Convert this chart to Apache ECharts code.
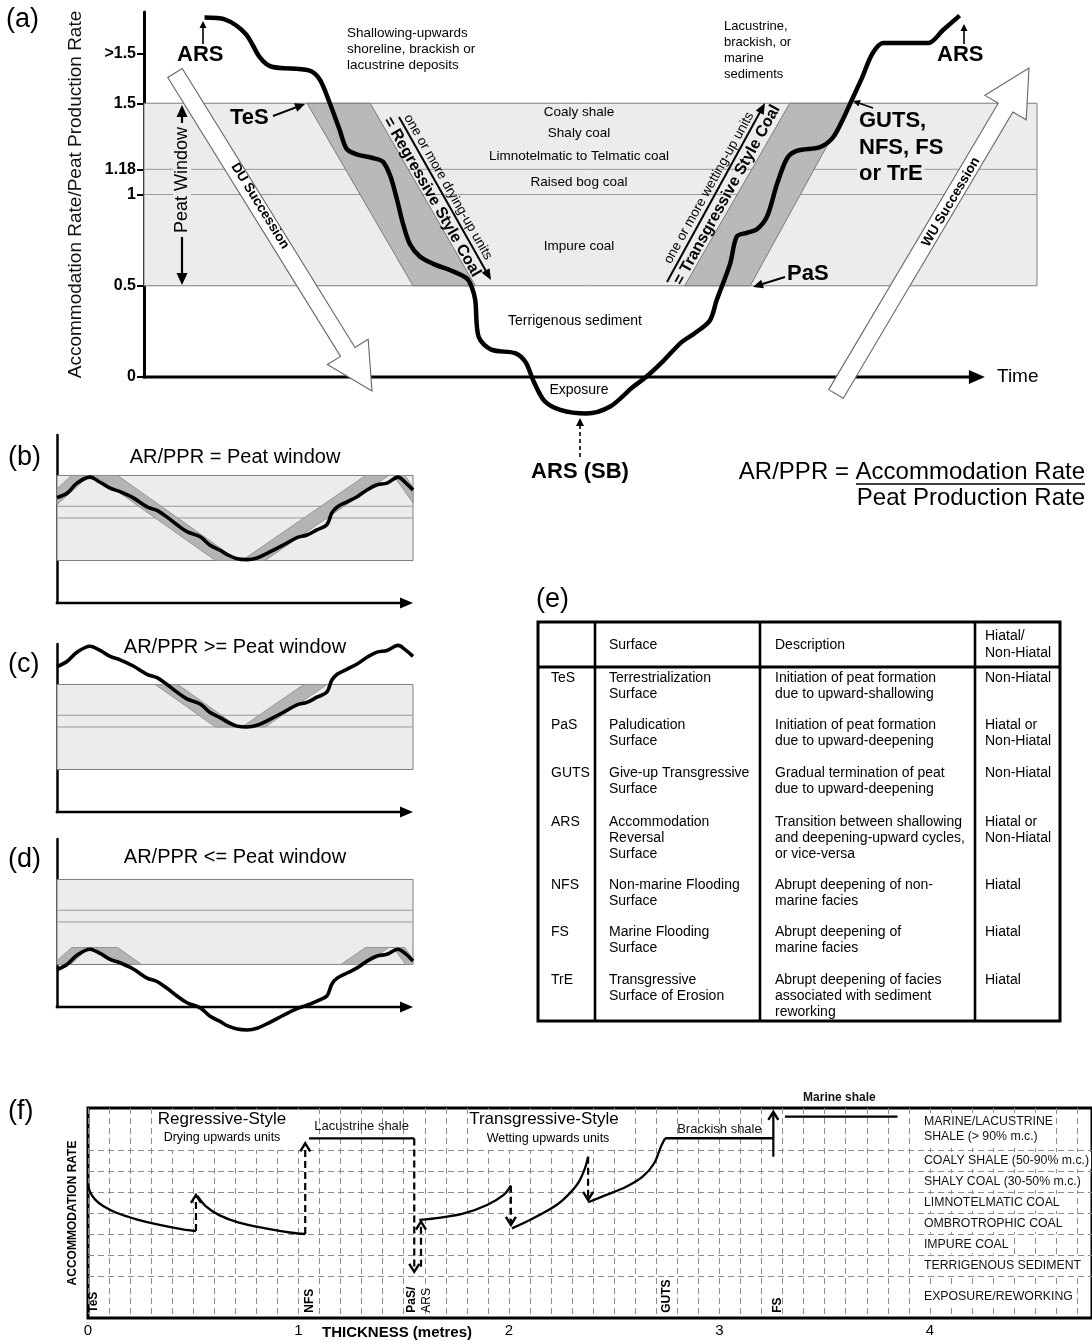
<!DOCTYPE html>
<html><head><meta charset="utf-8">
<script src="https://cdn.jsdelivr.net/npm/echarts@6/dist/echarts.min.js"></script>
<style>html,body{margin:0;padding:0;background:#fff}#c{width:1092px;height:1340px}</style>
</head><body><div id="c"></div>
<script>
const FF = '"Liberation Sans", Arial, Helvetica, sans-serif';

// ================= DATA =================
// (a) accommodation / peat-production ratio through time
const aTickValues = [0, 0.5, 1, 1.138, 1.5, 1.773];
const aTickLabels = ['0', '0.5', '1', '1.18', '1.5', '>1.5'];
const peatWindow = [0.5, 1.5];
const coalBoundaries = [1.0, 1.138];
const timeAxisEnd = 100;
const aBandEnd = 106.2;
const aCurve = [
[7.2,1.97],[9.6,1.96],[12.1,1.88],[13.8,1.75],[15.2,1.70],[19.6,1.68],[20.9,1.63],[22.1,1.50],[23.3,1.35],[24.1,1.25],
[25.3,1.22],[27.2,1.20],[28.4,1.18],[29.3,1.10],[30.1,0.97],[30.8,0.84],[31.6,0.73],[32.8,0.66],[34.4,0.62],[36.7,0.58],
[38.4,0.54],[39.0,0.49],[39.4,0.42],[39.8,0.22],[41.3,0.15],[44.2,0.13],[45.4,0.08],[46.3,-0.02],[47.6,-0.13],[49.5,-0.18],
[52.6,-0.20],[55.5,-0.16],[58.0,-0.06],[59.7,0.00],[61.8,0.09],[63.9,0.19],[65.5,0.24],[67.3,0.31],[68.1,0.42],[69.7,0.62],
[70.5,0.77],[71.7,0.79],[72.9,0.81],[74.1,0.88],[75.3,1.06],[76.5,1.20],[77.7,1.24],[80.4,1.26],[81.9,1.31],[83.1,1.41],
[84.3,1.53],[85.4,1.64],[86.6,1.77],[87.9,1.83],[90.7,1.83],[93.3,1.83],[95.0,1.90],[97.0,1.98]
];
const regressiveCoal = [[19.4,1.5],[26.9,1.5],[39.4,0.5],[32.0,0.5]];
const transgressiveCoal = [[64.3,0.5],[72.1,0.5],[84.0,1.5],[76.8,1.5]];

// (b) (c) (d)
const bCurve = [[0,1.24],[2.8,1.29],[5.6,1.41],[9.3,1.48],[12.1,1.42],[14.9,1.35],[17.7,1.31],[21.3,1.24],[25.3,1.13],[28.1,1.09],[30.9,1.01],[33.7,0.92],[36.5,0.84],[40.2,0.78],[43.0,0.68],[45.8,0.62],[47.8,0.57],[50.6,0.52],[53.4,0.51],[56.2,0.53],[59.8,0.60],[63.5,0.68],[67.4,0.77],[70.2,0.80],[73.0,0.86],[75.8,0.92],[77.2,1.06],[78.7,1.13],[81.5,1.19],[84.3,1.25],[87.1,1.33],[89.9,1.39],[92.7,1.41],[95.8,1.48],[97.8,1.42],[100,1.33]];
const cCurve = [[0,1.71],[2.8,1.77],[5.6,1.88],[9.3,1.95],[12.1,1.90],[14.9,1.83],[17.7,1.79],[21.3,1.72],[25.3,1.62],[28.1,1.58],[30.9,1.50],[33.7,1.41],[36.5,1.33],[40.2,1.27],[43.0,1.17],[45.8,1.11],[47.8,1.06],[50.6,1.01],[53.4,1.00],[56.2,1.02],[59.8,1.09],[63.5,1.17],[67.4,1.26],[70.2,1.29],[73.0,1.35],[75.8,1.41],[77.2,1.55],[78.7,1.62],[81.5,1.68],[84.3,1.74],[87.1,1.82],[89.9,1.88],[92.7,1.90],[95.8,1.96],[97.8,1.91],[100,1.83]];
const dCurve = [[0,0.44],[2.8,0.50],[5.6,0.61],[9.3,0.68],[12.1,0.63],[14.9,0.56],[17.7,0.52],[21.3,0.45],[25.3,0.34],[28.1,0.30],[30.9,0.22],[33.7,0.13],[36.5,0.05],[40.2,-0.01],[43.0,-0.11],[45.8,-0.17],[47.8,-0.22],[50.6,-0.26],[53.4,-0.27],[56.2,-0.25],[59.8,-0.18],[63.5,-0.10],[67.4,-0.02],[70.2,0.02],[73.0,0.07],[75.8,0.13],[77.2,0.27],[78.7,0.34],[81.5,0.40],[84.3,0.46],[87.1,0.54],[89.9,0.60],[92.7,0.62],[95.8,0.68],[97.8,0.63],[100,0.54]];
// centre lines of the grey coal wedges and the AR/PPR range they occupy in each panel
const bCoal = [[0,1.25],[9.8,1.62],[51.4,0.39],[94.1,1.62],[100,1.27]];
const cCoal = [[0,1.75],[9.8,2.12],[51.4,0.89],[94.1,2.12],[100,1.77]];
const dCoal = [[0,0.45],[9.8,0.82],[51.4,-0.41],[94.1,0.82],[100,0.47]];
const bCoalRange = [0.5, 1.5];
const cCoalRange = [1.0, 1.5];
const dCoalRange = [0.5, 0.7];
const panelTitles = ['AR/PPR = Peat window', 'AR/PPR >= Peat window', 'AR/PPR <= Peat window'];

// (e) table
const tableHeader = ['', 'Surface', 'Description', 'Hiatal/\nNon-Hiatal'];
const tableRows = [
 ['TeS', 'Terrestrialization\nSurface', 'Initiation of peat formation\ndue to upward-shallowing', 'Non-Hiatal'],
 ['PaS', 'Paludication\nSurface', 'Initiation of peat formation\ndue to upward-deepening', 'Hiatal or\nNon-Hiatal'],
 ['GUTS', 'Give-up Transgressive\nSurface', 'Gradual termination of peat\ndue to upward-deepening', 'Non-Hiatal'],
 ['ARS', 'Accommodation\nReversal\nSurface', 'Transition between shallowing\nand deepening-upward cycles,\nor vice-versa', 'Hiatal or\nNon-Hiatal'],
 ['NFS', 'Non-marine Flooding\nSurface', 'Abrupt deepening of non-\nmarine facies', 'Hiatal'],
 ['FS', 'Marine Flooding\nSurface', 'Abrupt deepening of\nmarine facies', 'Hiatal'],
 ['TrE', 'Transgressive\nSurface of Erosion', 'Abrupt deepening of facies\nassociated with sediment\nreworking', 'Hiatal']
];

// (f) accommodation rate vs thickness
const fTicks = [0, 1, 2, 3, 4];
const faciesBounds = [2, 3, 4, 5, 6, 7, 8];
const faciesLabelX = 3.962;
const faciesLabels = [
 ['MARINE/LACUSTRINE\nSHALE (> 90% m.c.)', 9.0],
 ['COALY SHALE (50-90% m.c.)', 7.5],
 ['SHALY COAL (30-50% m.c.)', 6.5],
 ['LIMNOTELMATIC COAL', 5.5],
 ['OMBROTROPHIC COAL', 4.5],
 ['IMPURE COAL', 3.5],
 ['TERRIGENOUS SEDIMENT', 2.5],
 ['EXPOSURE/REWORKING', 1.0]
];
const fSegments = [
 [[0,6.41],[0.009,6.01],[0.033,5.65],[0.072,5.33],[0.135,5.01],[0.23,4.70],[0.34,4.43],[0.45,4.22],[0.513,4.14]],
 [[0.52,5.81],[0.559,5.33],[0.623,4.90],[0.717,4.54],[0.843,4.27],[0.968,4.06],[1.032,4.00]],
 [[1.05,8.55],[1.55,8.55]],
 [[1.574,4.67],[1.676,4.78],[1.786,4.98],[1.896,5.38],[1.975,5.86],[2.009,6.30]],
 [[2.014,4.27],[2.116,4.75],[2.226,5.38],[2.285,5.90],[2.33,6.45],[2.36,7.10],[2.376,7.68]],
 [[2.376,5.51],[2.462,5.86],[2.557,6.25],[2.635,6.73],[2.69,7.37],[2.722,8.16],[2.742,8.56]],
 [[2.742,8.56],[3.256,8.56]],
 [[3.311,9.59],[3.846,9.59]]
];
// [thickness, from, to, dashed]
const fJumps = [
 [0.513,4.14,5.86,1],
 [1.032,4.00,8.32,1],
 [1.55,8.55,2.20,1],
 [1.582,2.44,4.59,1],
 [2.009,6.30,4.43,1],
 [2.376,7.68,5.62,1],
 [3.256,7.68,9.82,0]
];
const fSurfaceLabels = [['TeS',0.028],['NFS',1.052],['PaS/',1.538],['ARS',1.608],['GUTS',2.75],['FS',3.278]];
const fSurfaceLabelY = 0.25;
const fRangeLabels = [
 ['Lacustrine shale', 1.3, 9.14],
 ['Brackish shale', 3.0, 9.0],
 ['Marine shale', 3.57, 10.5]
];

// ================= HELPERS =================
function T(x, y, text, o) {
  o = o || {};
  const st = {text: text, fill: o.color || '#000', fontSize: o.size || 13, fontWeight: o.weight || 'normal',
    fontFamily: FF, textAlign: o.align || 'left', align: o.align || 'left',
    textVerticalAlign: o.valign || 'middle', verticalAlign: o.valign || 'middle'};
  if (o.lh) st.lineHeight = o.lh;
  if (o.bg) { st.backgroundColor = o.bg; st.padding = o.pad || [0, 2]; }
  return {type: 'text', x: x, y: y, rotation: o.rot || 0, z: 50, style: st};
}
function Arrow(x1, y1, x2, y2, o) {
  o = o || {};
  const w = o.w || 2, hl = o.hl || 10, hw = o.hw || 4.5, col = o.color || '#000';
  const dx = x2 - x1, dy = y2 - y1, L = Math.hypot(dx, dy), ux = dx / L, uy = dy / L;
  const bx = x2 - ux * hl, by = y2 - uy * hl;
  return [
    {type: 'line', z: 50, shape: {x1: x1, y1: y1, x2: bx + ux, y2: by + uy}, style: {stroke: col, lineWidth: w, lineDash: o.dash || null}},
    {type: 'polygon', z: 50, shape: {points: [[x2, y2], [bx - uy * hw, by + ux * hw], [bx + uy * hw, by - ux * hw]]}, style: {fill: col}}
  ];
}
function BigArrow(x1, y1, x2, y2) {
  const sw = 8.5, hw = 24, hl = 46;
  const dx = x2 - x1, dy = y2 - y1, L = Math.hypot(dx, dy), ux = dx / L, uy = dy / L, nx = -uy, ny = ux;
  const nxp = x2 - ux * hl, nyp = y2 - uy * hl;
  return {type: 'polygon', z: 45, shape: {points: [
    [x1 + nx * sw, y1 + ny * sw], [nxp + nx * sw, nyp + ny * sw], [nxp + nx * hw, nyp + ny * hw], [x2, y2],
    [nxp - nx * hw, nyp - ny * hw], [nxp - nx * sw, nyp - ny * sw], [x1 - nx * sw, y1 - ny * sw]]},
    style: {fill: '#fff', stroke: '#666', lineWidth: 1.1}};
}
function clipHalf(pts, axis, val, keepGreater) {
  const out = [];
  const inside = p => keepGreater ? p[axis] >= val : p[axis] <= val;
  for (let i = 0; i < pts.length; i++) {
    const cur = pts[i], prev = pts[(i + pts.length - 1) % pts.length];
    const ic = inside(cur), ip = inside(prev);
    const cross = () => { const t = (val - prev[axis]) / (cur[axis] - prev[axis]); return [prev[0] + t * (cur[0] - prev[0]), prev[1] + t * (cur[1] - prev[1])]; };
    if (ic) { if (!ip) out.push(cross()); out.push(cur); }
    else if (ip) out.push(cross());
  }
  return out;
}
function clipRect(pts, x0, x1, y0, y1) {
  let p = clipHalf(pts, 0, x0, true);
  p = clipHalf(p, 0, x1, false);
  p = clipHalf(p, 1, y0, true);
  p = clipHalf(p, 1, y1, false);
  return p;
}
function bandRender(x0, x1) {
  return function (params, api) {
    const tl = api.coord([x0, peatWindow[1]]), br = api.coord([x1, peatWindow[0]]);
    const ch = [{type: 'rect', shape: {x: tl[0], y: tl[1], width: br[0] - tl[0], height: br[1] - tl[1]},
      style: {fill: '#ececec', stroke: '#7e7e7e', lineWidth: 1}}];
    coalBoundaries.forEach(v => {
      const a = api.coord([x0, v]), b = api.coord([x1, v]);
      ch.push({type: 'line', shape: {x1: a[0], y1: a[1], x2: b[0], y2: b[1]}, style: {stroke: '#9a9a9a', lineWidth: 1}});
    });
    return {type: 'group', children: ch};
  };
}
function polyRender(polys) {
  return function (params, api) {
    return {type: 'group', children: polys.map(pl => ({type: 'polygon',
      shape: {points: pl.map(p => api.coord(p))}, style: {fill: '#b9b9b9', stroke: '#7a7a7a', lineWidth: 1}}))};
  };
}
function zigRender(centre, h, x1, range) {
  return function (params, api) {
    const upper = centre.map(p => api.coord([p[0], p[1] + h]));
    const lower = centre.slice().reverse().map(p => api.coord([p[0], p[1] - h]));
    const tl = api.coord([0, range[1]]), br = api.coord([x1, range[0]]);
    const poly = clipRect(upper.concat(lower), tl[0], br[0], tl[1], br[1]);
    if (poly.length < 3) return null;
    return {type: 'polygon', shape: {points: poly}, style: {fill: '#b4b4b4', stroke: '#8c8c8c', lineWidth: 0.8}};
  };
}
function axisArrowRender(xEnd, lw, hl, hw) {
  return function (params, api) {
    const a = api.coord([0, 0]), b = api.coord([xEnd, 0]);
    return {type: 'group', children: [
      {type: 'line', shape: {x1: a[0] - lw / 2, y1: a[1], x2: b[0] - hl + 1, y2: b[1]}, style: {stroke: '#000', lineWidth: lw}},
      {type: 'polygon', shape: {points: [[b[0], b[1]], [b[0] - hl, b[1] - hw], [b[0] - hl, b[1] + hw]]}, style: {fill: '#000'}}
    ]};
  };
}
function jumpRender(params, api) {
  const x = api.value(0), y0 = api.value(1), y1 = api.value(2), dashed = api.value(3);
  const p0 = api.coord([x, y0]), p1 = api.coord([x, y1]);
  const dir = p1[1] < p0[1] ? -1 : 1;
  const hl = 8, hw = 5;
  return {type: 'group', children: [
    {type: 'line', shape: {x1: p0[0], y1: p0[1], x2: p1[0], y2: p1[1] - dir * 1}, style: {stroke: '#000', lineWidth: 2.2, lineDash: dashed ? [7, 4] : null}},
    {type: 'polyline', shape: {points: [[p1[0] - hw, p1[1] - dir * hl], [p1[0], p1[1]], [p1[0] + hw, p1[1] - dir * hl]]}, style: {stroke: '#000', lineWidth: 2.4, fill: 'none'}}
  ]};
}

// ================= OPTION =================
const grids = [
  {left: 144, top: 12, width: 893, height: 365},
  {left: 57, top: 435, width: 356, height: 168},
  {left: 57, top: 644, width: 356, height: 168},
  {left: 57, top: 839, width: 356, height: 168},
  {left: 88, top: 1108, width: 1011, height: 210, show: true, borderColor: '#000', borderWidth: 3, backgroundColor: 'transparent'}
];
const hidden = {axisLine: {show: false}, axisTick: {show: false}, axisLabel: {show: false}, splitLine: {show: false}};
const xAxes = [
  Object.assign({gridIndex: 0, type: 'value', min: 0, max: aBandEnd}, hidden),
  Object.assign({gridIndex: 1, type: 'value', min: 0, max: 100}, hidden),
  Object.assign({gridIndex: 2, type: 'value', min: 0, max: 100}, hidden),
  Object.assign({gridIndex: 3, type: 'value', min: 0, max: 100}, hidden),
  {gridIndex: 4, type: 'value', min: 0, max: 4.77, interval: 0.1,
   axisLine: {show: false}, axisTick: {show: false},
   axisLabel: {show: true, customValues: fTicks, fontSize: 15, color: '#000', fontFamily: FF, margin: 5,
     formatter: v => (Math.abs(v - Math.round(v)) < 1e-6 ? String(Math.round(v)) : '')},
   splitLine: {show: true, lineStyle: {color: '#8c8c8c', width: 1, type: [6, 4]}}}
];
const smallY = gi => ({gridIndex: gi, type: 'value', min: 0, max: 1.976,
  axisLine: {show: true, onZero: false, lineStyle: {color: '#000', width: 2.5}}, axisTick: {show: false}, axisLabel: {show: false}, splitLine: {show: false}});
const yAxes = [
  {gridIndex: 0, type: 'value', min: 0, max: 2.0,
   axisLine: {show: true, onZero: false, lineStyle: {color: '#000', width: 3}},
   axisTick: {show: true, customValues: aTickValues, length: 7, lineStyle: {color: '#000', width: 2}},
   axisLabel: {show: true, customValues: aTickValues, fontSize: 16, fontWeight: 'bold', color: '#000', fontFamily: FF, margin: 8,
     formatter: v => { const i = aTickValues.findIndex(t => Math.abs(t - v) < 1e-6); return i >= 0 ? aTickLabels[i] : ''; }},
   splitLine: {show: false},
   name: 'Accommodation Rate/Peat Production Rate', nameLocation: 'middle', nameGap: 59, nameRotate: 90,
   nameTextStyle: {fontSize: 19, color: '#111', fontFamily: FF}},
  smallY(1), smallY(2), smallY(3),
  {gridIndex: 4, type: 'value', min: 0, max: 10, interval: 1,
   axisLine: {show: false}, axisTick: {show: false}, axisLabel: {show: false}, splitLine: {show: false},
   name: 'ACCOMMODATION RATE', nameLocation: 'middle', nameGap: 9, nameRotate: 90,
   nameTextStyle: {fontSize: 12, fontWeight: 'bold', color: '#000', fontFamily: FF}}
];

const series = [];
// (a)
series.push({type: 'custom', xAxisIndex: 0, yAxisIndex: 0, z: 1, silent: true, data: [[0, 0]], renderItem: bandRender(0, aBandEnd)});
series.push({type: 'custom', xAxisIndex: 0, yAxisIndex: 0, z: 2, silent: true, data: [[0, 0]], renderItem: polyRender([regressiveCoal, transgressiveCoal])});
series.push({type: 'custom', xAxisIndex: 0, yAxisIndex: 0, z: 3, silent: true, data: [[0, 0]], renderItem: axisArrowRender(timeAxisEnd, 3, 16, 7)});
series.push({type: 'line', xAxisIndex: 0, yAxisIndex: 0, z: 4, data: aCurve, smooth: 0.3, symbol: 'none', clip: false,
  lineStyle: {color: '#000', width: 4.5}});
// (b)(c)(d)
[[bCurve, bCoal, bCoalRange], [cCurve, cCoal, cCoalRange], [dCurve, dCoal, dCoalRange]].forEach((pair, k) => {
  const gi = k + 1;
  series.push({type: 'custom', xAxisIndex: gi, yAxisIndex: gi, z: 1, silent: true, data: [[0, 0]], renderItem: bandRender(0, 100)});
  series.push({type: 'custom', xAxisIndex: gi, yAxisIndex: gi, z: 2, silent: true, data: [[0, 0]], renderItem: zigRender(pair[1], 0.094, 100, pair[2])});
  series.push({type: 'custom', xAxisIndex: gi, yAxisIndex: gi, z: 3, silent: true, data: [[0, 0]], renderItem: axisArrowRender(100, 2.5, 13, 5.5)});
  series.push({type: 'line', xAxisIndex: gi, yAxisIndex: gi, z: 4, data: pair[0], smooth: 0.35, symbol: 'none', clip: false,
    lineStyle: {color: '#000', width: 3.6}});
});
// (f)
fSegments.forEach((seg, i) => {
  const s = {type: 'line', xAxisIndex: 4, yAxisIndex: 4, z: 4, data: seg, smooth: seg.length > 2 ? 0.35 : 0, symbol: 'none', clip: false,
    lineStyle: {color: '#000', width: 2.3}};
  if (i === 0) s.markLine = {silent: true, symbol: 'none', label: {show: false}, z: 2,
    lineStyle: {color: '#8c8c8c', width: 1, type: [6, 4]}, data: faciesBounds.map(v => ({yAxis: v}))};
  series.push(s);
});
series.push({type: 'custom', xAxisIndex: 4, yAxisIndex: 4, z: 5, silent: true, data: fJumps, renderItem: jumpRender});
series.push({type: 'custom', xAxisIndex: 4, yAxisIndex: 4, z: 6, silent: true,
  data: faciesLabels.map(d => [faciesLabelX, d[1]]),
  renderItem: (params, api) => {
    const p = api.coord([api.value(0), api.value(1)]);
    return {type: 'text', x: p[0], y: p[1], style: {text: faciesLabels[params.dataIndex][0], fill: '#111', fontSize: 12.3,
      fontFamily: FF, textAlign: 'left', align: 'left', textVerticalAlign: 'middle', verticalAlign: 'middle', lineHeight: 15,
      backgroundColor: '#fff', padding: [1, 2]}};
  }});
series.push({type: 'custom', xAxisIndex: 4, yAxisIndex: 4, z: 6, silent: true,
  data: fSurfaceLabels.map(d => [d[1], fSurfaceLabelY]),
  renderItem: (params, api) => {
    const p = api.coord([api.value(0), api.value(1)]);
    const t = fSurfaceLabels[params.dataIndex][0];
    return {type: 'text', x: p[0], y: p[1], rotation: Math.PI / 2, style: {text: t, fill: '#000', fontSize: 12,
      fontWeight: t === 'ARS' ? 'normal' : 'bold', fontFamily: FF, textAlign: 'left', align: 'left',
      textVerticalAlign: 'middle', verticalAlign: 'middle'}};
  }});
series.push({type: 'custom', xAxisIndex: 4, yAxisIndex: 4, z: 6, silent: true,
  data: fRangeLabels.map(d => [d[1], d[2]]),
  renderItem: (params, api) => {
    const p = api.coord([api.value(0), api.value(1)]);
    const t = fRangeLabels[params.dataIndex][0];
    return {type: 'text', x: p[0], y: p[1], style: {text: t, fill: '#111', fontSize: t === 'Marine shale' ? 12 : 13,
      fontWeight: t === 'Marine shale' ? 'bold' : 'normal', fontFamily: FF, textAlign: 'center', align: 'center',
      textVerticalAlign: 'middle', verticalAlign: 'middle'}};
  }});

// ================= ANNOTATIONS =================
let G = [];
// (a)
G.push(T(6, 20, '(a)', {size: 27}));
G.push(T(177, 55, 'ARS', {size: 22, weight: 'bold'}));
G = G.concat(Arrow(203, 44, 203, 21, {w: 1.6, hl: 7, hw: 3.5}));
G.push(T(347, 33, 'Shallowing-upwards', {size: 13.5}));
G.push(T(347, 49, 'shoreline, brackish or', {size: 13.5}));
G.push(T(347, 65, 'lacustrine deposits', {size: 13.5}));
G.push(T(230, 118, 'TeS', {size: 22, weight: 'bold'}));
G = G.concat(Arrow(273, 116, 305, 104, {w: 2, hl: 10, hw: 4.5}));
G = G.concat(Arrow(182, 195, 182, 105, {w: 2.2, hl: 12, hw: 5.5}));
G = G.concat(Arrow(182, 195, 182, 285, {w: 2.2, hl: 12, hw: 5.5}));
G.push(T(182, 180, 'Peat Window', {size: 18, align: 'center', rot: Math.PI / 2, bg: '#ececec', pad: [0, 4]}));
G.push(BigArrow(175, 73, 372, 391));
G.push(T(260, 206, 'DU Succession', {size: 13.5, weight: 'bold', align: 'center', rot: -1.015}));
G.push(BigArrow(836, 394, 1029, 68));
G.push(T(951, 202, 'WU Succession', {size: 13.5, weight: 'bold', align: 'center', rot: 1.037}));
G.push(T(579, 112, 'Coaly shale', {size: 13.5, align: 'center'}));
G.push(T(579, 133, 'Shaly coal', {size: 13.5, align: 'center'}));
G.push(T(579, 156, 'Limnotelmatic to Telmatic coal', {size: 13.5, align: 'center'}));
G.push(T(579, 182, 'Raised bog coal', {size: 13.5, align: 'center'}));
G.push(T(579, 246, 'Impure coal', {size: 13.5, align: 'center'}));
G.push(T(575, 321, 'Terrigenous sediment', {size: 14, align: 'center'}));
G.push(T(579, 390, 'Exposure', {size: 14, align: 'center'}));
G = G.concat(Arrow(399, 117, 491, 280, {w: 2, hl: 11, hw: 4.5}));
G.push(T(448, 187, 'one or more drying-up units', {size: 13.5, align: 'center', rot: -1.052}));
G.push(T(432, 197, '= Regressive Style Coal', {size: 16, weight: 'bold', align: 'center', rot: -1.052}));
G = G.concat(Arrow(667, 282, 765, 103, {w: 2, hl: 11, hw: 4.5}));
G.push(T(709, 188, 'one or more wetting-up units', {size: 13.5, align: 'center', rot: 1.063}));
G.push(T(727, 195, '= Transgressive Style Coal', {size: 16, weight: 'bold', align: 'center', rot: 1.063}));
G.push(T(724, 26, 'Lacustrine,', {size: 13}));
G.push(T(724, 42, 'brackish, or', {size: 13}));
G.push(T(724, 58, 'marine', {size: 13}));
G.push(T(724, 74, 'sediments', {size: 13}));
G.push(T(857, 121, 'GUTS,', {size: 22, weight: 'bold', bg: '#ececec', pad: [0, 2]}));
G.push(T(857, 148, 'NFS, FS', {size: 22, weight: 'bold', bg: '#ececec', pad: [0, 2]}));
G.push(T(857, 174, 'or TrE', {size: 22, weight: 'bold', bg: '#ececec', pad: [0, 2]}));
G = G.concat(Arrow(873, 108, 853, 101, {w: 1.6, hl: 7, hw: 3.5}));
G.push(T(787, 274, 'PaS', {size: 22, weight: 'bold'}));
G = G.concat(Arrow(785, 277, 753, 287, {w: 2, hl: 10, hw: 4.5}));
G.push(T(937, 55, 'ARS', {size: 22, weight: 'bold'}));
G = G.concat(Arrow(964, 44, 964, 24, {w: 1.6, hl: 7, hw: 3.5}));
G.push(T(997, 377, 'Time', {size: 19}));
G.push(T(580, 472, 'ARS (SB)', {size: 22, weight: 'bold', align: 'center'}));
G = G.concat(Arrow(580, 457, 580, 418, {w: 1.6, hl: 8, hw: 4, dash: [4, 3]}));
G.push(T(1085, 472, 'AR/PPR = Accommodation Rate', {size: 24, align: 'right'}));
G.push(T(1085, 498, 'Peat Production Rate', {size: 24, align: 'right'}));
G.push({type: 'line', z: 50, shape: {x1: 856, y1: 484, x2: 1085, y2: 484}, style: {stroke: '#000', lineWidth: 1.6}});
// (b)(c)(d)
[['(b)', 458, 457], ['(c)', 665, 647], ['(d)', 860, 857]].forEach((r, k) => {
  G.push(T(8, r[1], r[0], {size: 27}));
  G.push(T(235, r[2], panelTitles[k], {size: 20, align: 'center'}));
});
// (e) table
G.push(T(536, 600, '(e)', {size: 27}));
const tCols = [538, 595, 760, 975, 1060], tTop = 622, tHead = 667, tBot = 1021;
const tTextX = [551, 609, 775, 985];
const tRowY = [678, 725, 773, 822, 885, 932, 980];
G.push({type: 'rect', z: 40, shape: {x: tCols[0], y: tTop, width: tCols[4] - tCols[0], height: tBot - tTop}, style: {fill: '#fff', stroke: '#000', lineWidth: 3}});
[1, 2, 3].forEach(i => G.push({type: 'line', z: 41, shape: {x1: tCols[i], y1: tTop, x2: tCols[i], y2: tBot}, style: {stroke: '#000', lineWidth: 2.6}}));
G.push({type: 'line', z: 41, shape: {x1: tCols[0], y1: tHead, x2: tCols[4], y2: tHead}, style: {stroke: '#000', lineWidth: 3}});
tableHeader.forEach((h, c) => { if (h) G.push(T(tTextX[c], 645, h, {size: 14, lh: 17})); });
tableRows.forEach((row, r) => row.forEach((cell, c) => G.push(T(tTextX[c], tRowY[r] - 8, cell, {size: 14, lh: 16, valign: 'top'}))));
// (f)
G.push(T(8, 1112, '(f)', {size: 27}));
G.push({type: 'rect', z: 45, shape: {x: 153, y: 1110, width: 146, height: 40}, style: {fill: '#fff'}});
G.push(T(222, 1119, 'Regressive-Style', {size: 17, align: 'center'}));
G.push(T(222, 1138, 'Drying upwards units', {size: 12.5, align: 'center'}));
G.push({type: 'rect', z: 45, shape: {x: 472, y: 1110, width: 146, height: 40}, style: {fill: '#fff'}});
G.push(T(544, 1119, 'Transgressive-Style', {size: 17, align: 'center'}));
G.push(T(548, 1139, 'Wetting upwards units', {size: 12.5, align: 'center'}));
G.push(T(322, 1333, 'THICKNESS (metres)', {size: 15, weight: 'bold'}));

const chart = echarts.init(document.getElementById('c'), null, {renderer: 'canvas'});
chart.setOption({
  animation: false,
  backgroundColor: '#fff',
  textStyle: {fontFamily: FF},
  grid: grids,
  xAxis: xAxes,
  yAxis: yAxes,
  series: series,
  graphic: {elements: G}
});
</script></body></html>
